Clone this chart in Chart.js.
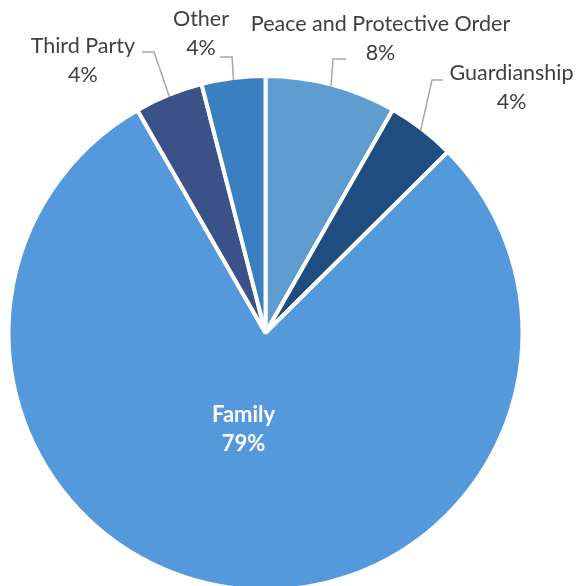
<!DOCTYPE html>
<html>
<head>
<meta charset="utf-8">
<script src="https://cdn.jsdelivr.net/npm/chart.js@4/dist/chart.umd.min.js"></script>
<style>
  html, body { margin: 0; padding: 0; background: #ffffff; overflow: hidden; }
  #wrap { width: 577px; height: 600px; position: relative; }
</style>
</head>
<body>
<div id="wrap"><canvas id="c" width="577" height="600"></canvas></div>
<script>
// ---- data ----
const categories = ["Peace and Protective Order", "Guardianship", "Family", "Third Party", "Other"];
const values = [8.25, 4.3, 79.1, 4.3, 4.0];
const sliceColors = ["#5f9dd1", "#1e4d7f", "#5599dd", "#3b5289", "#3a7fbf"];

// ---- label layout (fractions of radius, relative to pie centre) ----
const labelPos = [[0.451, -1.157], [0.965, -0.965], [-0.086, 0.376], [-0.716, -1.069], [-0.253, -1.175]];
const leaderElbow = [[0.265, -1.075], [0.653, -0.992], null, [-0.437, -1.102], [-0.131, -1.082]];
const leaderTail = [13, 11, 0, -12, -12];

const FONT = "Lato, 'Liberation Sans', sans-serif";

const labelPlugin = {
  id: 'pieLabels',
  afterDatasetsDraw(chart) {
    const ctx = chart.ctx;
    const meta = chart.getDatasetMeta(0);
    const total = values.reduce((a, b) => a + b, 0);
    meta.data.forEach((arc, i) => {
      const p = arc.getProps(['x', 'y', 'startAngle', 'endAngle', 'outerRadius'], true);
      const R = p.outerRadius - 2;
      const mid = (p.startAngle + p.endAngle) / 2;
      const pct = Math.round(values[i] / total * 100) + '%';
      ctx.save();
      if (leaderElbow[i]) {
        const sx = p.x + Math.cos(mid) * R, sy = p.y + Math.sin(mid) * R;
        const ex = p.x + leaderElbow[i][0] * R, ey = p.y + leaderElbow[i][1] * R;
        ctx.strokeStyle = '#a6a6a6';
        ctx.lineWidth = 1.5;
        ctx.beginPath();
        ctx.moveTo(sx, sy);
        ctx.lineTo(ex, ey);
        ctx.lineTo(ex + leaderTail[i], ey);
        ctx.stroke();
      }
      const lx = p.x + labelPos[i][0] * R, ly = p.y + labelPos[i][1] * R;
      const inside = !leaderElbow[i];
      ctx.fillStyle = inside ? '#ffffff' : '#404040';
      ctx.font = (inside ? 'bold 22px ' : '21.5px ') + FONT;
      ctx.textAlign = 'center';
      ctx.textBaseline = 'middle';
      ctx.fillText(categories[i], lx, ly - 14);
      ctx.fillText(pct, lx, ly + 15);
      ctx.restore();
    });
  }
};

new Chart(document.getElementById('c'), {
  type: 'pie',
  data: {
    labels: categories,
    datasets: [{
      data: values,
      backgroundColor: sliceColors,
      borderColor: '#ffffff',
      borderWidth: 4,
      hoverOffset: 0
    }]
  },
  options: {
    responsive: false,
    animation: false,
    layout: { padding: { left: 6.5, right: 52.5, top: 74, bottom: 8 } },
    plugins: { legend: { display: false }, tooltip: { enabled: false } }
  },
  plugins: [labelPlugin]
});
</script>
</body>
</html>
